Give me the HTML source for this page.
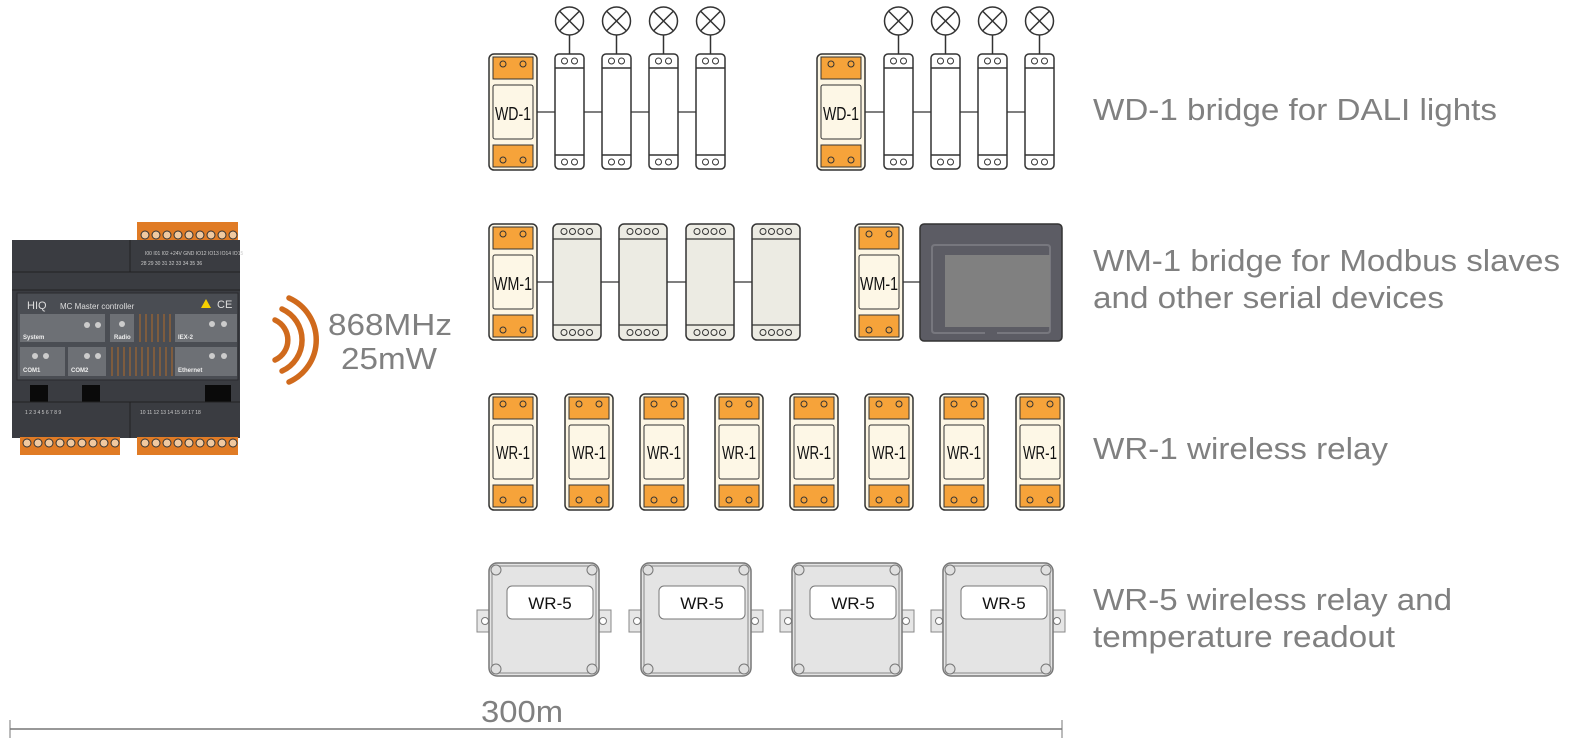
<!DOCTYPE html>
<html><head><meta charset="utf-8"><style>
html,body{margin:0;padding:0;background:#fff;}
svg{display:block;}
text{font-family:"Liberation Sans",Arial,sans-serif;}
</style></head><body>
<svg width="1573" height="752" viewBox="0 0 1573 752" xmlns="http://www.w3.org/2000/svg">
<defs>
<g id="bridge">
 <rect x="0" y="0" width="48" height="116" rx="5" fill="#fdf6e3" stroke="#333" stroke-width="1.5"/>
 <rect x="4" y="3" width="40" height="22" fill="#f6a33a" stroke="#333" stroke-width="1"/>
 <circle cx="14" cy="10" r="3" fill="none" stroke="#333"/><circle cx="34" cy="10" r="3" fill="none" stroke="#333"/>
 <rect x="4" y="31" width="40" height="54" rx="2" fill="#fdf7e6" stroke="#333" stroke-width="1"/>
 <rect x="4" y="91" width="40" height="22" fill="#f6a33a" stroke="#333" stroke-width="1"/>
 <circle cx="14" cy="106" r="3" fill="none" stroke="#333"/><circle cx="34" cy="106" r="3" fill="none" stroke="#333"/>
</g>
<g id="ballast">
 <line x1="14.5" y1="-19" x2="14.5" y2="0" stroke="#333" stroke-width="1.5"/>
 <circle cx="14.5" cy="-33" r="14" fill="#fff" stroke="#333" stroke-width="1.5"/>
 <line x1="4.6" y1="-42.9" x2="24.4" y2="-23.1" stroke="#333" stroke-width="1.5"/>
 <line x1="24.4" y1="-42.9" x2="4.6" y2="-23.1" stroke="#333" stroke-width="1.5"/>
 <rect x="0" y="0" width="29" height="115" rx="4" fill="#fff" stroke="#333" stroke-width="1.5"/>
 <line x1="0" y1="14" x2="29" y2="14" stroke="#333" stroke-width="1.5"/>
 <line x1="0" y1="101" x2="29" y2="101" stroke="#333" stroke-width="1.5"/>
 <circle cx="9.5" cy="7" r="3" fill="none" stroke="#333"/><circle cx="19.5" cy="7" r="3" fill="none" stroke="#333"/>
 <circle cx="9.5" cy="108" r="3" fill="none" stroke="#333"/><circle cx="19.5" cy="108" r="3" fill="none" stroke="#333"/>
</g>
<g id="modbus">
 <rect x="0" y="0" width="48" height="116" rx="5" fill="#ecebe3" stroke="#333" stroke-width="1.5"/>
 <line x1="0" y1="15" x2="48" y2="15" stroke="#333" stroke-width="1.2"/>
 <line x1="0" y1="101" x2="48" y2="101" stroke="#333" stroke-width="1.2"/>
 <g fill="none" stroke="#333"><circle cx="11" cy="7.5" r="3"/><circle cx="19.5" cy="7.5" r="3"/><circle cx="28" cy="7.5" r="3"/><circle cx="36.5" cy="7.5" r="3"/>
 <circle cx="11" cy="108.5" r="3"/><circle cx="19.5" cy="108.5" r="3"/><circle cx="28" cy="108.5" r="3"/><circle cx="36.5" cy="108.5" r="3"/></g>
</g>
<g id="wr5">
 <rect x="-12" y="47" width="15" height="22" fill="#e6e6e6" stroke="#888"/>
 <circle cx="-4" cy="58" r="3.5" fill="#fff" stroke="#777"/>
 <rect x="107" y="47" width="15" height="22" fill="#e6e6e6" stroke="#888"/>
 <circle cx="114" cy="58" r="3.5" fill="#fff" stroke="#777"/>
 <rect x="0" y="0" width="110" height="113" rx="8" fill="#e4e4e4" stroke="#777" stroke-width="1.5"/>
 <rect x="3" y="3" width="104" height="107" rx="7" fill="none" stroke="#888" stroke-width="1"/>
 <g fill="#e0e0e0" stroke="#777"><circle cx="7" cy="7" r="5"/><circle cx="103" cy="7" r="5"/><circle cx="7" cy="106" r="5"/><circle cx="103" cy="106" r="5"/></g>
 <rect x="18" y="23" width="86" height="33" rx="5" fill="#fff" stroke="#777"/>
</g>
</defs>

<line x1="537" y1="112" x2="725" y2="112" stroke="#555" stroke-width="1.5"/>
<line x1="865" y1="112" x2="1054" y2="112" stroke="#555" stroke-width="1.5"/>
<use href="#bridge" x="489" y="54"/>
<use href="#ballast" x="555" y="54"/><use href="#ballast" x="602" y="54"/><use href="#ballast" x="649" y="54"/><use href="#ballast" x="696" y="54"/>
<use href="#bridge" x="817" y="54"/>
<use href="#ballast" x="884" y="54"/><use href="#ballast" x="931" y="54"/><use href="#ballast" x="978" y="54"/><use href="#ballast" x="1025" y="54"/>
<text x="513" y="120" font-size="18" text-anchor="middle" fill="#111" textLength="36" lengthAdjust="spacingAndGlyphs">WD-1</text>
<text x="841" y="120" font-size="18" text-anchor="middle" fill="#111" textLength="36" lengthAdjust="spacingAndGlyphs">WD-1</text>

<line x1="537" y1="282" x2="780" y2="282" stroke="#555" stroke-width="1.5"/>
<line x1="903" y1="282" x2="925" y2="282" stroke="#555" stroke-width="1.5"/>
<use href="#bridge" x="489" y="224"/>
<use href="#modbus" x="553" y="224"/><use href="#modbus" x="619" y="224"/><use href="#modbus" x="686" y="224"/><use href="#modbus" x="752" y="224"/>
<use href="#bridge" x="855" y="224"/>
<text x="513" y="290" font-size="18" text-anchor="middle" fill="#111" textLength="38" lengthAdjust="spacingAndGlyphs">WM-1</text>
<text x="879" y="290" font-size="18" text-anchor="middle" fill="#111" textLength="38" lengthAdjust="spacingAndGlyphs">WM-1</text>
<rect x="920" y="224" width="142" height="117" rx="4" fill="#5c5c64" stroke="#333" stroke-width="1.5"/>
<path d="M985 333 H935 Q932 333 932 330 V248 Q932 245 935 245 H1047 Q1050 245 1050 248 V330 Q1050 333 1047 333 H997" fill="none" stroke="#77777e" stroke-width="2"/>
<rect x="945" y="255" width="105" height="72" fill="#808080"/>

<use href="#bridge" x="489" y="394"/><use href="#bridge" x="565" y="394"/><use href="#bridge" x="640" y="394"/><use href="#bridge" x="715" y="394"/>
<use href="#bridge" x="790" y="394"/><use href="#bridge" x="865" y="394"/><use href="#bridge" x="940" y="394"/><use href="#bridge" x="1016" y="394"/>
<g font-size="18" text-anchor="middle" fill="#111">
<text x="513" y="459" textLength="34" lengthAdjust="spacingAndGlyphs">WR-1</text>
<text x="589" y="459" textLength="34" lengthAdjust="spacingAndGlyphs">WR-1</text>
<text x="664" y="459" textLength="34" lengthAdjust="spacingAndGlyphs">WR-1</text>
<text x="739" y="459" textLength="34" lengthAdjust="spacingAndGlyphs">WR-1</text>
<text x="814" y="459" textLength="34" lengthAdjust="spacingAndGlyphs">WR-1</text>
<text x="889" y="459" textLength="34" lengthAdjust="spacingAndGlyphs">WR-1</text>
<text x="964" y="459" textLength="34" lengthAdjust="spacingAndGlyphs">WR-1</text>
<text x="1040" y="459" textLength="34" lengthAdjust="spacingAndGlyphs">WR-1</text>
</g>

<use href="#wr5" x="489" y="563"/><use href="#wr5" x="641" y="563"/><use href="#wr5" x="792" y="563"/><use href="#wr5" x="943" y="563"/>
<g font-size="17" text-anchor="middle" fill="#111">
<text x="550" y="609">WR-5</text><text x="702" y="609">WR-5</text><text x="853" y="609">WR-5</text><text x="1004" y="609">WR-5</text>
</g>

<g font-size="31" fill="#808080" lengthAdjust="spacingAndGlyphs">
<text x="1093" y="120" textLength="404" lengthAdjust="spacingAndGlyphs">WD-1 bridge for DALI lights</text>
<text x="1093" y="271" textLength="467" lengthAdjust="spacingAndGlyphs">WM-1 bridge for Modbus slaves</text>
<text x="1093" y="308" textLength="351" lengthAdjust="spacingAndGlyphs">and other serial devices</text>
<text x="1093" y="459" textLength="295" lengthAdjust="spacingAndGlyphs">WR-1 wireless relay</text>
<text x="1093" y="610" textLength="359" lengthAdjust="spacingAndGlyphs">WR-5 wireless relay and</text>
<text x="1093" y="647" textLength="302" lengthAdjust="spacingAndGlyphs">temperature readout</text>
</g>

<g fill="none" stroke="#d06a1c" stroke-width="5.5" stroke-linecap="round">
<path d="M275 320 A22 22 0 0 1 275 360"/>
<path d="M282 309 A34 34 0 0 1 282 371"/>
<path d="M289 298 A46 46 0 0 1 289 382"/>
</g>
<text x="328" y="335" font-size="31" fill="#808080" textLength="124" lengthAdjust="spacingAndGlyphs">868MHz</text>
<text x="341" y="369" font-size="31" fill="#808080" textLength="96" lengthAdjust="spacingAndGlyphs">25mW</text>

<line x1="10" y1="729" x2="1062" y2="729" stroke="#777" stroke-width="1.5"/>
<line x1="10" y1="720" x2="10" y2="738" stroke="#777"/>
<line x1="1062" y1="720" x2="1062" y2="738" stroke="#777"/>
<text x="481" y="722" font-size="31" fill="#808080" textLength="82" lengthAdjust="spacingAndGlyphs">300m</text>

<g>
 <rect x="137" y="222" width="101" height="19" fill="#e07b25"/>
 <g fill="#f0c9a0" stroke="#333" stroke-width="1">
 <circle cx="145" cy="235" r="4"/><circle cx="156" cy="235" r="4"/><circle cx="167" cy="235" r="4"/><circle cx="178" cy="235" r="4"/><circle cx="189" cy="235" r="4"/><circle cx="200" cy="235" r="4"/><circle cx="211" cy="235" r="4"/><circle cx="222" cy="235" r="4"/><circle cx="233" cy="235" r="4"/>
 </g>
 <rect x="12" y="240" width="228" height="198" fill="#3a3c41"/>
 <line x1="12" y1="272" x2="240" y2="272" stroke="#222"/>
 <line x1="130" y1="240" x2="130" y2="272" stroke="#222"/>
 <line x1="12" y1="290" x2="240" y2="290" stroke="#222"/>
 <rect x="17" y="293" width="221" height="87" fill="#4a4d53" stroke="#2a2a2e"/>
 <text x="27" y="309" font-size="11" fill="#ddd">HIQ</text>
 <text x="60" y="309" font-size="8" fill="#ddd">MC Master controller</text>
 <text x="217" y="308" font-size="11" fill="#ddd">CE</text>
 <path d="M201 308 L206 299 L211 308Z" fill="#f5d000"/>
 <g fill="#6d7075">
  <rect x="20" y="314" width="85" height="28"/><rect x="110" y="314" width="24" height="28"/><rect x="175" y="314" width="62" height="28"/>
  <rect x="20" y="347" width="45" height="29"/><rect x="68" y="347" width="38" height="29"/><rect x="175" y="347" width="62" height="29"/>
 </g>
 <g stroke="#b36a2a" stroke-width="1">
  <line x1="140" y1="314" x2="140" y2="342"/><line x1="146" y1="314" x2="146" y2="342"/><line x1="152" y1="314" x2="152" y2="342"/><line x1="158" y1="314" x2="158" y2="342"/><line x1="164" y1="314" x2="164" y2="342"/><line x1="170" y1="314" x2="170" y2="342"/>
  <line x1="112" y1="347" x2="112" y2="376"/><line x1="118" y1="347" x2="118" y2="376"/><line x1="124" y1="347" x2="124" y2="376"/><line x1="130" y1="347" x2="130" y2="376"/><line x1="136" y1="347" x2="136" y2="376"/><line x1="142" y1="347" x2="142" y2="376"/><line x1="148" y1="347" x2="148" y2="376"/><line x1="154" y1="347" x2="154" y2="376"/><line x1="160" y1="347" x2="160" y2="376"/><line x1="166" y1="347" x2="166" y2="376"/><line x1="172" y1="347" x2="172" y2="376"/>
 </g>
 <g fill="#ccc"><circle cx="87" cy="325" r="3"/><circle cx="98" cy="325" r="3"/><circle cx="122" cy="324" r="3"/><circle cx="212" cy="324" r="3"/><circle cx="224" cy="324" r="3"/>
 <circle cx="35" cy="356" r="3"/><circle cx="46" cy="356" r="3"/><circle cx="87" cy="356" r="3"/><circle cx="98" cy="356" r="3"/><circle cx="212" cy="356" r="3"/><circle cx="224" cy="356" r="3"/></g>
 <g font-size="6" fill="#eee" font-weight="bold">
  <text x="23" y="339">System</text><text x="114" y="339">Radio</text><text x="178" y="339">IEX-2</text>
  <text x="23" y="372">COM1</text><text x="71" y="372">COM2</text><text x="178" y="372">Ethernet</text>
 </g>
 <rect x="30" y="385" width="18" height="17" fill="#0a0a0a"/><rect x="82" y="385" width="18" height="17" fill="#0a0a0a"/><rect x="205" y="385" width="26" height="17" fill="#0a0a0a"/>
 <line x1="12" y1="402" x2="240" y2="402" stroke="#222"/>
 <line x1="130" y1="402" x2="130" y2="438" stroke="#222"/>
 <g font-size="5" fill="#ccc"><text x="25" y="414">1  2  3  4  5  6  7  8  9</text><text x="140" y="414">10 11 12 13 14 15 16 17 18</text>
 <text x="145" y="255">I00 I01 I02 +24V GND IO12 IO13 IO14 IO15</text><text x="141" y="265">28 29 30 31 32 33 34 35 36</text></g>
 <rect x="20" y="437" width="100" height="18" fill="#e07b25"/>
 <rect x="137" y="437" width="101" height="18" fill="#e07b25"/>
 <g fill="#f0c9a0" stroke="#333" stroke-width="1">
 <circle cx="27" cy="443" r="4"/><circle cx="38" cy="443" r="4"/><circle cx="49" cy="443" r="4"/><circle cx="60" cy="443" r="4"/><circle cx="71" cy="443" r="4"/><circle cx="82" cy="443" r="4"/><circle cx="93" cy="443" r="4"/><circle cx="104" cy="443" r="4"/><circle cx="115" cy="443" r="4"/>
 <circle cx="145" cy="443" r="4"/><circle cx="156" cy="443" r="4"/><circle cx="167" cy="443" r="4"/><circle cx="178" cy="443" r="4"/><circle cx="189" cy="443" r="4"/><circle cx="200" cy="443" r="4"/><circle cx="211" cy="443" r="4"/><circle cx="222" cy="443" r="4"/><circle cx="233" cy="443" r="4"/>
 </g>
</g>
</svg>
</body></html>
